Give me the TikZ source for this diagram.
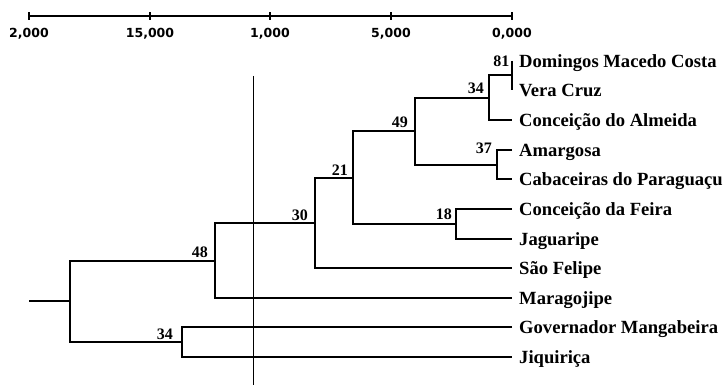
\documentclass[tikz,border=0pt]{standalone}
\usepackage{fontspec}
\setmainfont{Liberation Serif}
\newfontfamily\scalefnt{DejaVu Sans}
\begin{document}
\begin{tikzpicture}[x=1pt,y=-1pt,
  tree/.style={line width=2pt},
  thinline/.style={line width=1.1pt},
  bar/.style={line width=2.6pt},
  tick/.style={line width=2pt},
  leaf/.style={anchor=base west, inner sep=0pt, font=\fontsize{18.6}{18.6}\selectfont\bfseries, xshift=7pt, yshift=-6.2pt},
  boot/.style={anchor=base east, inner sep=0pt, font=\fontsize{16}{16}\selectfont\bfseries},
  scalelab/.style={anchor=base, inner sep=0pt, font=\scalefnt\fontsize{12.5}{12.5}\selectfont\bfseries, yshift=-21.5pt}
]
\useasboundingbox (0,0) rectangle (727,385);

% scale bar
\coordinate (s0) at (29,16);
\coordinate (s1) at (150,16);
\coordinate (s2) at (270,16);
\coordinate (s3) at (391,16);
\coordinate (s4) at (512,16);
\draw[bar] (s0) -- (s4);
\foreach \s in {s0,s1,s2,s3,s4}
  \draw[tick] ([yshift=3.6pt]\s) -- ([yshift=-3.6pt]\s);
\node[scalelab] (l0) at (s0) {2,000};
\node[scalelab] (l1) at (s1) {15,000};
\node[scalelab] (l2) at (s2) {1,000};
\node[scalelab] (l3) at (s3) {5,000};
\node[scalelab] (l4) at (s4) {0,000};

% thin vertical line
\coordinate (vtop) at (253.5,76);
\coordinate (vbot) at (253.5,385);
\draw[thinline] (vtop) -- (vbot);

% leaf tips
\coordinate (L1) at (512,61);
\coordinate (L2) at (512,90);
\coordinate (L3) at (512,120);
\coordinate (L4) at (512,150);
\coordinate (L5) at (512,179);
\coordinate (L6) at (512,209);
\coordinate (L7) at (512,239);
\coordinate (L8) at (512,268);
\coordinate (L9) at (512,298);
\coordinate (L10) at (512,327);
\coordinate (L11) at (512,357);

% internal nodes
\coordinate (n81) at (512,75.5);
\coordinate (n34a) at (489,98);
\coordinate (n37) at (497,164.5);
\coordinate (n49) at (415,131);
\coordinate (n18) at (456,224);
\coordinate (n21) at (353,178);
\coordinate (n30) at (315,223);
\coordinate (n48) at (215,260.5);
\coordinate (n34b) at (182,342);
\coordinate (root) at (70,301);
\coordinate (stub) at (29,301);

% branches
\draw[tree] (L1) -| (n81) |- (L2);
\draw[tree] (n81) -| (n34a) |- (L3);
\draw[tree] (L4) -| (n37) |- (L5);
\draw[tree] (n34a) -| (n49) |- (n37);
\draw[tree] (L6) -| (n18) |- (L7);
\draw[tree] (n49) -| (n21) |- (n18);
\draw[tree] (n21) -| (n30) |- (L8);
\draw[tree] (n30) -| (n48) |- (L9);
\draw[tree] (L10) -| (n34b) |- (L11);
\draw[tree] (n48) -| (root) |- (n34b);
\draw[tree] (stub) -- (root);

% bootstrap values
\node[boot, xshift=-2.5pt, yshift=-6pt] (b81) at (L1) {81};
\node[boot, xshift=-5pt, yshift=4.5pt] (b34a) at (n34a) {34};
\node[boot, xshift=-7pt, yshift=3pt] (b49) at (n49) {49};
\node[boot, xshift=-5pt, yshift=-3pt] (b37) at (n37 |- L4) {37};
\node[boot, xshift=-4pt, yshift=-10pt] (b18) at (n18 |- L6) {18};
\node[boot, xshift=-5pt, yshift=3pt] (b21) at (n21) {21};
\node[boot, xshift=-7pt, yshift=3pt] (b30) at (n30) {30};
\node[boot, xshift=-7pt, yshift=3pt] (b48) at (n48) {48};
\node[boot, xshift=-9pt, yshift=3pt] (b34b) at (n34b) {34};

% leaf labels
\node[leaf] (t1) at (L1) {Domingos Macedo Costa};
\node[leaf] (t2) at (L2) {Vera Cruz};
\node[leaf] (t3) at (L3) {Conceição do Almeida};
\node[leaf] (t4) at (L4) {Amargosa};
\node[leaf] (t5) at (L5) {Cabaceiras do Paraguaçu};
\node[leaf] (t6) at (L6) {Conceição da Feira};
\node[leaf] (t7) at (L7) {Jaguaripe};
\node[leaf] (t8) at (L8) {São Felipe};
\node[leaf] (t9) at (L9) {Maragojipe};
\node[leaf] (t10) at (L10) {Governador Mangabeira};
\node[leaf] (t11) at (L11) {Jiquiriça};
\end{tikzpicture}
\end{document}
